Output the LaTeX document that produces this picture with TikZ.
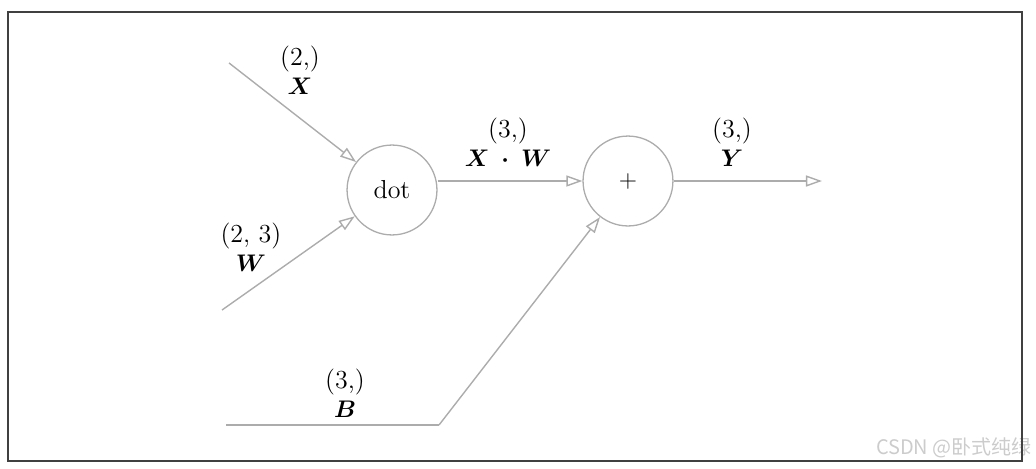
\documentclass[tikz,border=0pt]{standalone}
\usepackage{amsmath,bm}
\usepackage{fontspec}
\newfontfamily\cjk{Noto Sans CJK SC}
\usetikzlibrary{arrows.meta}

\begin{document}
\begin{tikzpicture}[align=center, font=\fontsize{13}{14.5}\selectfont,
  op/.style={circle, draw=gray!65, line width=0.65pt, minimum size=1.58cm, inner sep=0pt},
  edge/.style={draw=gray!65, line width=0.7pt, -{Triangle[open, length=8pt, width=5.5pt]}},
  wire/.style={draw=gray!65, line width=0.7pt}]

  \useasboundingbox (-6.889, -4.903) rectangle (11.317, 3.339);

  \node (watermark) at (11.25, -4.534) [anchor=east, inner sep=0pt, text=gray!40, font=\cjk\fontsize{10}{11}\selectfont] {CSDN @卧式纯绿};

  \draw[black!75, line width=1pt] (-6.748, -4.762) rectangle (11.071, 3.128);

  \node (dot) at (0, 0) [op] {dot};

  \node (plus) at (4.147, 0.158) [op] {$+$};

  \coordinate (x-in) at (-2.864, 2.232);
  \coordinate (w-in) at (-2.987, -2.109);
  \coordinate (b-in) at (-2.917, -4.130);
  \coordinate (b-bend) at (0.826, -4.130);
  \coordinate (y-out) at (7.556, 0.158);

  \draw[edge] (x-in) -- (dot);
  \draw[edge] (w-in) -- (dot);
  \draw[edge] (dot.east |- plus.west) -- (plus.west);
  \draw[wire] (b-in) -- (b-bend);
  \draw[edge] (b-bend) -- (plus);
  \draw[edge] (plus.east) -- (y-out);

  \node (x-label) at (-1.617, 2.109) {(2,)\\$\bm{X}$};
  \node (w-label) at (-2.478, -1.002) {(2, 3)\\$\bm{W}$};
  \node (xw-label) at (2.038, 0.844) {(3,)\\$\bm{X}\;\bm{\cdot}\;\bm{W}$};
  \node (y-label) at (5.975, 0.844) {(3,)\\$\bm{Y}$};
  \node (b-label) at (-0.826, -3.567) {(3,)\\$\bm{B}$};

\end{tikzpicture}
\end{document}
